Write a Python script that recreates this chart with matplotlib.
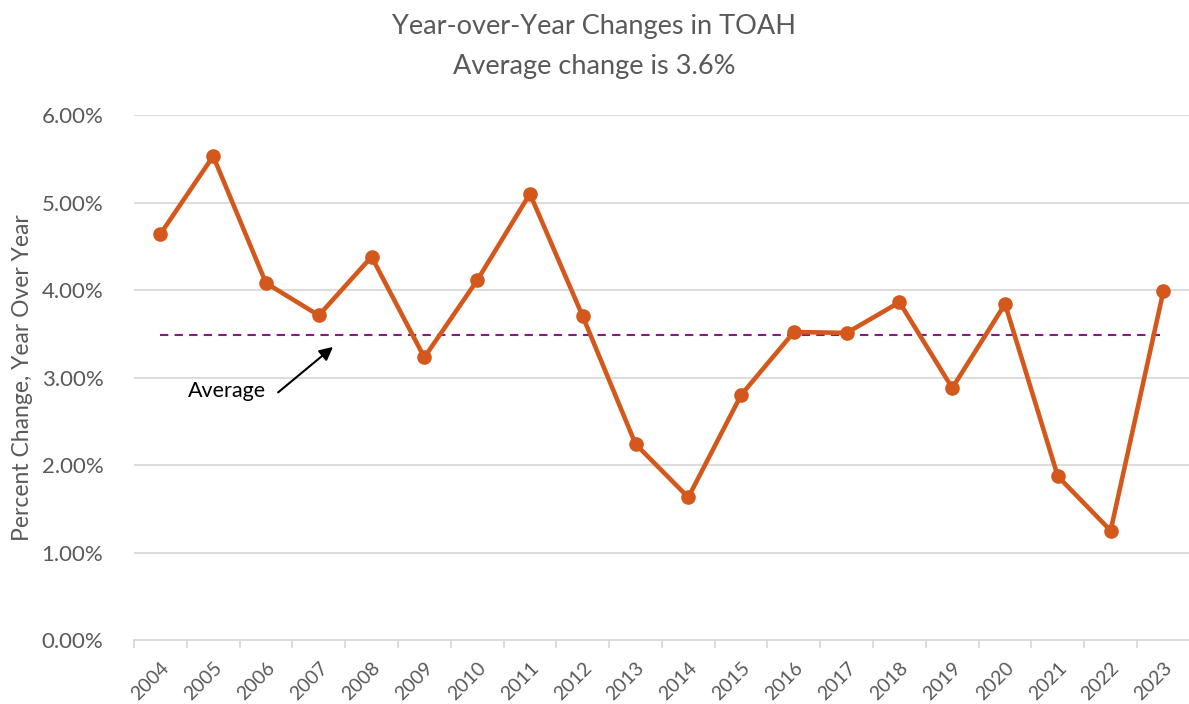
import numpy as np
import matplotlib
matplotlib.use("Agg")
import matplotlib.pyplot as plt
from matplotlib.ticker import PercentFormatter, FixedLocator

plt.rcParams['font.family'] = ['Lato', 'DejaVu Sans']

years = ['2004', '2005', '2006', '2007', '2008', '2009', '2010', '2011', '2012', '2013',
         '2014', '2015', '2016', '2017', '2018', '2019', '2020', '2021', '2022', '2023']
yoy_change = [4.64, 5.53, 4.08, 3.71, 4.38, 3.23, 4.11, 5.10, 3.70, 2.24,
              1.63, 2.80, 3.52, 3.51, 3.86, 2.88, 3.84, 1.87, 1.25, 3.99]
average_line = 3.49

title = 'Year-over-Year Changes in TOAH\nAverage change is 3.6%'
ylabel = 'Percent Change, Year Over Year'

text_gray = '#595959'
grid_gray = '#D9D9D9'
line_color = '#D4581C'
avg_color = '#8B1A7E'

fig = plt.figure(figsize=(11.89, 7.04), dpi=100)
ax = fig.add_axes([0.1127, 0.0909, 0.888, 0.7457])

x = np.arange(len(years))
ax.plot(x, yoy_change, color=line_color, lw=3.3, marker='o', ms=9.5, zorder=3)
ax.plot(x, [average_line] * len(years), color=avg_color, lw=1.5, ls=(0, (4, 3)), zorder=2)

ax.set_xlim(-0.5, len(years) - 0.5)
ax.set_ylim(0, 6)
ax.set_yticks(np.arange(0, 7, 1))
ax.yaxis.set_major_formatter(PercentFormatter(decimals=2))
ax.grid(axis='y', color=grid_gray, lw=1.3)
ax.set_axisbelow(True)

ax.set_xticks(x)
ax.set_xticklabels(years, rotation=45, ha='right', rotation_mode='anchor')
ax.xaxis.set_minor_locator(FixedLocator(np.arange(-0.5, len(years), 1)))
ax.tick_params(axis='x', which='major', length=0, pad=14, labelsize=14, labelcolor=text_gray)
ax.tick_params(axis='x', which='minor', length=6, color=grid_gray, width=1.3)
ax.tick_params(axis='y', length=0, pad=22, labelsize=16, labelcolor=text_gray)

for side in ['top', 'right', 'left']:
    ax.spines[side].set_visible(False)
ax.spines['bottom'].set_color(grid_gray)
ax.spines['bottom'].set_linewidth(1.3)

ax.set_ylabel(ylabel, fontsize=16.5, color=text_gray, labelpad=6)
fig.suptitle(title, fontsize=19.5, color=text_gray, y=0.98, linespacing=1.75)

ax.text(1.26, 2.85, 'Average', fontsize=15.5, color='black', ha='center', va='center')
ax.annotate('', xy=(3.27, 3.35), xytext=(2.23, 2.83),
            arrowprops=dict(arrowstyle='-|>', color='black', lw=1.5,
                            mutation_scale=20, shrinkA=0, shrinkB=0))

fig.savefig('out.png', dpi=100)
